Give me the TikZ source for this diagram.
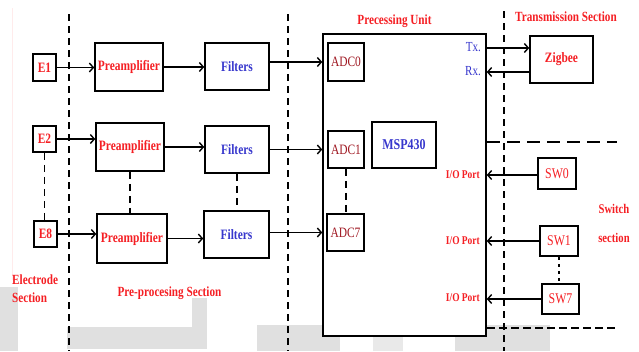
\documentclass[tikz,border=0pt]{standalone}
\usepackage{fontspec}
\setmainfont{Liberation Serif}[FakeStretch=0.8]
\usetikzlibrary{arrows.meta}
\definecolor{tr}{RGB}{245,30,35}
\definecolor{tb}{RGB}{55,55,205}
\definecolor{tm}{RGB}{160,25,35}
\definecolor{patch}{RGB}{224,224,224}
\begin{document}
\begin{tikzpicture}[x=1pt,y=-1pt,
  box/.style={draw, line width=1.5pt, inner sep=0pt, fill=white},
  rl/.style={font=\fontsize{14.3}{15}\selectfont\bfseries, text=tr},
  bl/.style={font=\fontsize{14.3}{15}\selectfont\bfseries, text=tb},
  ml/.style={font=\fontsize{14.3}{15}\selectfont, text=tm},
  sw/.style={font=\fontsize{14.8}{15}\selectfont, text=tr},
  io/.style={font=\fontsize{11.8}{12}\selectfont\bfseries, text=tr, anchor=east, inner sep=0pt},
  txl/.style={font=\fontsize{13.8}{14}\selectfont, text=tb, anchor=east, inner sep=0pt},
  sec/.style={font=\fontsize{14}{18}\selectfont\bfseries, text=tr, inner sep=0pt},
  arr/.style={line width=1.5pt, -{Straight Barb[length=4pt,width=9pt,line width=1.4pt]}},
  sect/.style={line width=1.5pt, dash pattern=on 7pt off 5pt},
  link/.style={line width=1.5pt, dash pattern=on 7pt off 5pt}]
\useasboundingbox (0,0) rectangle (639,351);
% faint scan background
\fill[patch] (0,287) rectangle (18,351);
\fill[patch] (67,327) rectangle (207,349);
\fill[patch] (192,298) rectangle (207,327);
\fill[patch] (257,325) rectangle (340,351);
\fill[patch!70!white] (373,283) rectangle (403,351);
\fill[patch] (455,325) rectangle (550,351);
\draw[red!8, line width=1pt] (12,8) -- (12,280);
% section separators
\draw[sect] (69,14) -- (69,351);
\draw[sect] (288,14) -- (288,351);
\draw[sect] (504,11) -- (504,351);
\draw[line width=1.5pt, dash pattern=on 13pt off 7pt] (487,142) -- (617,142);
\draw[line width=1.5pt, dash pattern=on 8pt off 4pt] (487,328) -- (615,328);
% electrodes
\node[box, rl, minimum width=23pt, minimum height=27pt] (e1) at (44.5,67.5) {E1};
\node[box, rl, minimum width=23pt, minimum height=26pt] (e2) at (44.5,139) {E2};
\node[box, rl, minimum width=23pt, minimum height=26pt] (e8) at (45.5,234) {E8};
% preamplifiers
\node[box, rl, minimum width=68pt, minimum height=48pt] (p1) at (129,67) {Preamplifier};
\node[box, rl, minimum width=68pt, minimum height=48pt] (p2) at (130,147) {Preamplifier};
\node[box, rl, minimum width=70pt, minimum height=49pt] (p3) at (132,238.5) {Preamplifier};
% filters
\node[box, bl, minimum width=64pt, minimum height=47pt] (f1) at (237,66.5) {Filters};
\node[box, bl, minimum width=64pt, minimum height=47pt] (f2) at (237,149.5) {Filters};
\node[box, bl, minimum width=65pt, minimum height=47pt] (f3) at (236.5,234.5) {Filters};
% processing unit
\node[box, minimum width=163pt, minimum height=302pt] (pu) at (404.5,185) {};
\node[box, ml, minimum width=36pt, minimum height=38pt] (a0) at (346,62) {ADC0};
\node[box, ml, minimum width=36pt, minimum height=37pt] (a1) at (346,149.5) {ADC1};
\node[box, ml, minimum width=37pt, minimum height=37pt] (a7) at (345.5,232.5) {ADC7};
\node[box, bl, font=\fontsize{15}{15}\selectfont\bfseries, minimum width=64pt, minimum height=46pt] (msp) at (404,145) {MSP430};
\node[txl] (tx) at (481,47) {Tx.};
\node[txl] (rx) at (481,71) {Rx.};
% zigbee
\node[box, rl, minimum width=63pt, minimum height=47pt] (zig) at (561.5,59.5) {Zigbee};
% switches
\node[box, sw, minimum width=38pt, minimum height=31pt] (sw0) at (557,173.5) {SW0};
\node[box, sw, minimum width=38pt, minimum height=30pt] (sw1) at (559,241) {SW1};
\node[box, sw, minimum width=37pt, minimum height=30pt] (sw7) at (560.5,299) {SW7};
\node[io] (io0) at (480,175) {I/O Port};
\node[io] (io1) at (480,241) {I/O Port};
\node[io] (io7) at (480,298) {I/O Port};
% section titles
\node[sec] (tpu) at (394.5,21) {Precessing Unit};
\node[sec] (tts) at (566,17) {Transmission Section};
\node[sec, align=left, anchor=west] (tel) at (12,289) {Electrode\\Section};
\node[sec] (tpp) at (169.5,293) {Pre-procesing Section};
\node[sec, align=center, font=\fontsize{13.3}{29}\selectfont\bfseries] (tsw) at (614,223.5) {Switch\\section};
% arrows
\draw[arr] (e1) -- (e1 -| p1.west);
\draw[arr] (e2) -- (e2 -| p2.west);
\draw[arr] (e8) -- (e8 -| p3.west);
\draw[arr] (p1) -- (p1 -| f1.west);
\draw[arr] (p2) -- (p2 -| f2.west);
\draw[arr] (p3) -- (p3 -| f3.west);
\draw[arr] (f1.east |- a0) -- (pu.west |- a0);
\draw[arr] (f2.east |- a1) -- (pu.west |- a1);
\draw[arr] (f3.east |- a7) -- (pu.west |- a7);
\coordinate (txp) at ([yshift=11.5pt]zig.west);
\coordinate (rxp) at ([yshift=-12.5pt]zig.west);
\draw[arr] (pu.east |- txp) -- (txp);
\draw[arr] (rxp) -- (pu.east |- rxp);
\draw[arr] (sw0.west |- io0) -- (pu.east |- io0);
\draw[arr] (sw1) -- (sw1 -| pu.east);
\draw[arr] (sw7) -- (sw7 -| pu.east);
% dashed continuations
\draw[link] (e2.south) -- (e2.south |- e8.north);
\draw[link] (p2.south) -- (p2.south |- p3.north);
\draw[link] (f2.south) -- (f2.south |- f3.north);
\draw[link] (a1.south) -- (a1.south |- a7.north);
\draw[line width=1.5pt, dash pattern=on 3pt off 4pt] (sw1.south) -- (sw1.south |- sw7.north);
\end{tikzpicture}
\end{document}
